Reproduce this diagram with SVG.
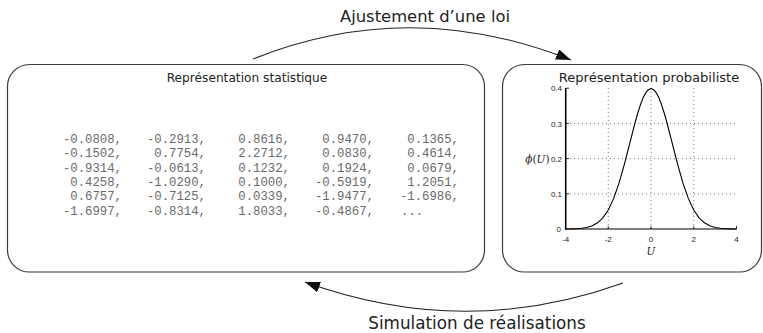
<svg xmlns="http://www.w3.org/2000/svg" width="763" height="333" viewBox="0 0 763 333">
  <style>
    .box { fill: #ffffff; stroke: #3a3a3a; stroke-width: 1.2; }
    .title { font-family: "DejaVu Sans", sans-serif; fill: #222; text-anchor: middle; }
    .label { font-family: "DejaVu Sans", sans-serif; font-size: 16.4px; fill: #222; text-anchor: middle; }
    .num { font-family: "Liberation Mono", monospace; font-size: 12.3px; fill: #6a6a6a; text-anchor: end; }
    .conn { fill: none; stroke: #222; stroke-width: 1.1; }
    .grid { stroke: #555; stroke-width: 0.8; stroke-dasharray: 1 3; fill: none; }
    .axis { stroke: #000; fill: none; }
    .tick { font-family: "Liberation Sans", Arial, sans-serif; font-size: 8px; fill: #222; }
    .math { font-family: "DejaVu Serif", "Liberation Serif", serif; font-size: 10.5px; fill: #222; }
  </style>
  <defs>
    <marker id="arrow" markerUnits="userSpaceOnUse" markerWidth="16" markerHeight="12" refX="15" refY="5.5" orient="auto">
      <path d="M0,0 L15,5.5 L0,11 Z" fill="#111"/>
    </marker>
  </defs>

  <!-- connectors between the two representations -->
  <g id="connectors">
    <path class="conn" d="M253,59 Q410,-4 571,60" marker-end="url(#arrow)"/>
    <text class="label" x="425" y="22">Ajustement d’une loi</text>
    <path class="conn" d="M623,283 Q465,340 305,282" marker-end="url(#arrow)"/>
    <text class="label" x="477" y="329" style="font-size:16.8px">Simulation de réalisations</text>
  </g>

  <!-- statistical representation: sample values -->
  <g id="node-statistique">
    <rect class="box" x="7.5" y="64.5" width="477" height="207.5" rx="22" ry="22"/>
    <text class="title" x="247" y="82" style="font-size:12.2px">Représentation statistique</text>
    <g>
      <text class="num" x="122" y="143">-0.0808,</text>
      <text class="num" x="206" y="143">-0.2913,</text>
      <text class="num" x="290" y="143">0.8616,</text>
      <text class="num" x="374" y="143">0.9470,</text>
      <text class="num" x="459" y="143">0.1365,</text>

      <text class="num" x="122" y="157.3">-0.1502,</text>
      <text class="num" x="206" y="157.3">0.7754,</text>
      <text class="num" x="290" y="157.3">2.2712,</text>
      <text class="num" x="374" y="157.3">0.0830,</text>
      <text class="num" x="459" y="157.3">0.4614,</text>

      <text class="num" x="122" y="171.6">-0.9314,</text>
      <text class="num" x="206" y="171.6">-0.0613,</text>
      <text class="num" x="290" y="171.6">0.1232,</text>
      <text class="num" x="374" y="171.6">0.1924,</text>
      <text class="num" x="459" y="171.6">0.0679,</text>

      <text class="num" x="122" y="185.9">0.4258,</text>
      <text class="num" x="206" y="185.9">-1.0290,</text>
      <text class="num" x="290" y="185.9">0.1000,</text>
      <text class="num" x="374" y="185.9">-0.5919,</text>
      <text class="num" x="459" y="185.9">1.2051,</text>

      <text class="num" x="122" y="200.2">0.6757,</text>
      <text class="num" x="206" y="200.2">-0.7125,</text>
      <text class="num" x="290" y="200.2">0.0339,</text>
      <text class="num" x="374" y="200.2">-1.9477,</text>
      <text class="num" x="459" y="200.2">-1.6986,</text>

      <text class="num" x="122" y="214.5">-1.6997,</text>
      <text class="num" x="206" y="214.5">-0.8314,</text>
      <text class="num" x="290" y="214.5">1.8033,</text>
      <text class="num" x="374" y="214.5">-0.4867,</text>
      <text class="num" x="401" y="214.5" style="text-anchor:start">...</text>
    </g>
  </g>

  <!-- probabilistic representation: standard normal density -->
  <g id="node-probabiliste">
    <rect class="box" x="502.5" y="64.5" width="259" height="207.5" rx="22" ry="22"/>
    <text class="title" x="649" y="82" style="font-size:13.1px">Représentation probabiliste</text>

    <!-- grid -->
    <path class="grid" d="M566,194 H736.5 M566,158.6 H736.5 M566,123.4 H736.5"/>
    <path class="grid" d="M608.25,88 V229 M651,88 V229 M693.75,88 V229"/>

    <!-- axes and ticks -->
    <path class="axis" stroke-width="1.6" d="M565.7,88 V229.5"/>
    <path class="axis" stroke-width="1.1" d="M565,229 H736.5"/>
    <path class="axis" stroke-width="0.8" d="M566,88.2 h3 M566,123.4 h3 M566,158.6 h3 M566,193.8 h3 M608.25,229 v-3 M651,229 v-3 M693.75,229 v-3 M736.5,229 v-3"/>

    <!-- density curve -->
    <polyline fill="none" stroke="#000" stroke-width="1.1" stroke-linejoin="round" points="565.5,228.95 570.84,228.88 576.19,228.69 581.53,228.29 586.88,227.44 592.22,225.8 597.56,222.83 602.91,217.83 608.25,209.99 613.59,198.63 618.94,183.41 624.28,164.71 629.63,143.83 634.97,123 637.64,113.49 640.31,105.07 642.98,98.11 645.66,92.89 648.33,89.67 651,88.57 653.67,89.67 656.34,92.89 659.02,98.11 661.69,105.07 664.36,113.49 667.03,123 672.38,143.83 677.72,164.71 683.06,183.41 688.41,198.63 693.75,209.99 699.09,217.83 704.44,222.83 709.78,225.8 715.13,227.44 720.47,228.29 725.81,228.69 731.16,228.88 736.5,228.95"/>

    <!-- tick labels -->
    <g class="tick" text-anchor="end">
      <text x="562" y="91">0.4</text>
      <text x="562" y="126.5">0.3</text>
      <text x="562" y="161.5">0.2</text>
      <text x="562" y="197">0.1</text>
      <text x="561" y="231.5">0</text>
    </g>
    <g class="tick" text-anchor="middle">
      <text x="565.7" y="242">-4</text>
      <text x="608.25" y="242">-2</text>
      <text x="651" y="242">0</text>
      <text x="693.75" y="242">2</text>
      <text x="736.5" y="242">4</text>
    </g>

    <!-- axis labels -->
    <text class="math" x="651" y="255" text-anchor="middle" font-style="italic">U</text>
    <text class="math" x="549.5" y="162.5" text-anchor="end"><tspan font-style="italic">ϕ</tspan>(<tspan font-style="italic">U</tspan>)</text>
  </g>
</svg>
